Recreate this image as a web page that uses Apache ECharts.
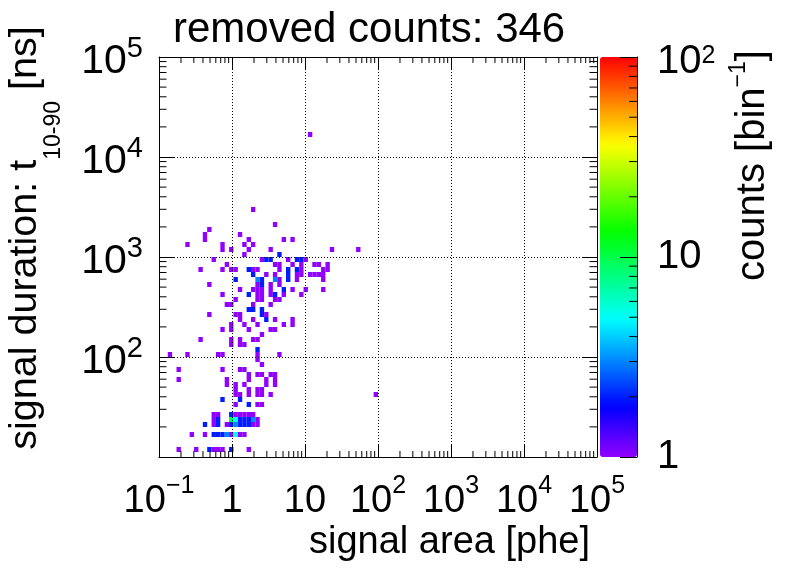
<!DOCTYPE html>
<html lang="en">
  <head>
    <meta charset="UTF-8" />
    <script src="https://cdn.jsdelivr.net/npm/echarts@6.0.0/dist/echarts.min.js"></script>
    <style>
      html, body { margin: 0; padding: 0; background: #fff; }
      #main { width: 796px; height: 572px; }
    </style>
    <title>removed counts</title>
  </head>
  <body>
    <div id="main"></div>
    <script>
      const FONT = "'Liberation Sans', Arial, Helvetica, sans-serif";

      const titleText = "removed counts: 346";
      const xTitle = "signal area [phe]";

      // histogram binning: [nbins, log10 low, log10 high]
      const xBinning = [100, -1, 5];
      const yBinning = [80, 1, 5];

      const xRange = [0.1, 1e5];
      const yRange = [10, 1e5];
      const zRange = [1, 100];

      // [x bin, y bin, counts]
      const cells = [
        [34, 64, 1],
        [21, 49, 1],
        [26, 46, 1],
        [11, 45, 1],
        [10, 44, 1], [18, 44, 1],
        [10, 43, 1], [20, 43, 1], [28, 43, 1], [30, 43, 1],
        [6, 42, 1], [14, 42, 1], [19, 42, 1], [21, 42, 1],
        [14, 41, 1], [16, 41, 1], [20, 41, 1], [25, 41, 1], [39, 41, 1], [45, 41, 1],
        [19, 40, 1], [27, 40, 2],
        [12, 39, 1], [23, 39, 1], [24, 39, 2], [25, 39, 2], [29, 39, 1], [31, 39, 2], [32, 39, 2], [33, 39, 1],
        [15, 38, 1], [26, 38, 1], [27, 38, 1], [30, 38, 1], [32, 38, 1], [35, 38, 1], [36, 38, 1], [38, 38, 1],
        [9, 37, 1], [14, 37, 1], [16, 37, 1], [17, 37, 1], [20, 37, 2], [21, 37, 1], [22, 37, 1],
        [27, 37, 1], [29, 37, 2], [31, 37, 2], [32, 37, 1], [37, 37, 1], [38, 37, 1],
        [21, 36, 2], [24, 36, 1], [26, 36, 1], [29, 36, 2], [31, 36, 1], [32, 36, 1],
        [34, 36, 1], [35, 36, 1], [36, 36, 1], [37, 36, 1],
        [17, 35, 2], [22, 35, 3], [23, 35, 2], [26, 35, 3], [27, 35, 1], [29, 35, 2], [31, 35, 1], [37, 35, 1],
        [11, 34, 1], [22, 34, 1], [23, 34, 2], [25, 34, 1], [27, 34, 1],
        [18, 33, 1], [21, 33, 1], [22, 33, 1], [23, 33, 1], [25, 33, 1], [28, 33, 2], [30, 33, 1], [33, 33, 1], [37, 33, 1],
        [14, 32, 1], [20, 32, 2], [22, 32, 1], [23, 32, 1], [25, 32, 1], [26, 32, 2], [28, 32, 1], [32, 32, 1],
        [17, 31, 1], [22, 31, 1], [23, 31, 1], [26, 31, 1], [27, 31, 1],
        [15, 30, 1], [16, 30, 1], [21, 30, 1], [25, 30, 1],
        [20, 29, 2], [21, 29, 2], [23, 29, 2],
        [11, 28, 1], [17, 28, 1], [18, 28, 1], [23, 28, 2], [24, 28, 1],
        [18, 27, 1], [21, 27, 1], [24, 27, 2], [26, 27, 1], [30, 27, 1],
        [16, 26, 1], [19, 26, 1], [22, 26, 1], [28, 26, 1], [30, 26, 1],
        [14, 25, 1], [16, 25, 1], [20, 25, 1], [25, 25, 1], [26, 25, 1],
        [23, 24, 1],
        [9, 23, 1], [16, 23, 1], [18, 23, 1], [21, 23, 1], [22, 23, 1],
        [16, 22, 1], [18, 22, 1], [19, 22, 1],
        [22, 21, 2],
        [2, 20, 1], [6, 20, 1], [13, 20, 1], [14, 20, 1], [22, 20, 1], [27, 20, 1],
        [22, 19, 1],
        [23, 18, 1],
        [4, 17, 1], [14, 17, 1], [18, 17, 1], [19, 17, 1],
        [20, 16, 1], [22, 16, 1], [23, 16, 1], [25, 16, 1], [26, 16, 1],
        [4, 15, 1], [15, 15, 1], [20, 15, 1], [24, 15, 1], [26, 15, 1],
        [15, 14, 1], [17, 14, 1], [19, 14, 1], [24, 14, 1], [26, 14, 1],
        [17, 13, 1], [20, 13, 1], [22, 13, 1], [23, 13, 1],
        [17, 12, 1], [18, 12, 1], [20, 12, 1], [22, 12, 1], [23, 12, 1], [25, 12, 1], [49, 12, 1],
        [14, 11, 2], [18, 11, 2],
        [17, 10, 1], [20, 10, 2], [22, 10, 1], [23, 10, 1],
        [12, 8, 1], [13, 8, 1], [16, 8, 2], [17, 8, 1], [18, 8, 1], [19, 8, 1], [20, 8, 1], [21, 8, 1],
        [12, 7, 1], [13, 7, 2], [16, 7, 10], [17, 7, 5], [18, 7, 2], [19, 7, 2], [20, 7, 2], [21, 7, 3], [22, 7, 1],
        [10, 6, 2], [12, 6, 1], [13, 6, 2], [15, 6, 1], [16, 6, 2], [17, 6, 3], [18, 6, 2],
        [19, 6, 2], [20, 6, 2], [21, 6, 1], [22, 6, 1],
        [7, 4, 1], [10, 4, 1], [12, 4, 2], [13, 4, 2], [14, 4, 2], [15, 4, 3], [16, 4, 1], [17, 4, 5], [18, 4, 1], [19, 4, 1],
        [4, 1, 1], [8, 1, 1], [11, 1, 2], [12, 1, 1], [13, 1, 1], [14, 1, 1], [16, 1, 2], [20, 1, 1],
      ];

      // minor ticks at 2..9 of each decade
      const minorSteps = [2, 3, 4, 5, 6, 7, 8, 9];
      const xDecades = [0.1, 1, 10, 100, 1e3, 1e4];
      const yDecades = [10, 100, 1e3, 1e4];
      const zDecades = [1, 10];

      // ROOT "pretty" palette: hue 280 -> 0
      const palette = [];
      for (let i = 0; i < 49; i++) {
        palette.push("hsl(" + (280 - (i + 1) * 5.6).toFixed(1) + ",100%,50%)");
      }
      palette.push("#ff0000");

      function edge(binning, i) {
        return Math.pow(10, binning[1] + ((binning[2] - binning[1]) * i) / binning[0]);
      }

      function minors(decades) {
        const out = [];
        decades.forEach((d) => minorSteps.forEach((m) => out.push(m * d)));
        return out;
      }

      function powLabel(v) {
        const e = Math.round(Math.log10(v));
        if (e === 0) return "{b|1}";
        if (e === 1) return "{b|10}";
        return "{b|10}{s|" + (e < 0 ? "\u2212" + -e : e) + "}";
      }

      const cellRows = cells.map((c) => [
        Math.sqrt(edge(xBinning, c[0]) * edge(xBinning, c[0] + 1)),
        Math.sqrt(edge(yBinning, c[1]) * edge(yBinning, c[1] + 1)),
        c[2],
        Math.log10(c[2]),
        c[0],
        c[1],
      ]);

      const black = "#000";

      function cellItem(params, api) {
        const ix = api.value(4);
        const iy = api.value(5);
        const p0 = api.coord([edge(xBinning, ix), edge(yBinning, iy + 1)]);
        const p1 = api.coord([edge(xBinning, ix + 1), edge(yBinning, iy)]);
        return {
          type: "rect",
          shape: { x: p0[0], y: p0[1], width: p1[0] - p0[0], height: p1[1] - p0[1] },
          style: { fill: api.visual("color") },
        };
      }

      function tickLine(x1, y1, x2, y2) {
        return {
          type: "line",
          shape: { x1: x1, y1: y1, x2: x2, y2: y2 },
          style: { stroke: black, lineWidth: 1 },
        };
      }

      function xMinorItem(params, api) {
        const v = api.value(0);
        const b = api.coord([v, yRange[0]]);
        const t = api.coord([v, yRange[1]]);
        return {
          type: "group",
          children: [tickLine(b[0], b[1], b[0], b[1] - 6), tickLine(t[0], t[1], t[0], t[1] + 6)],
        };
      }

      function yMinorItem(params, api) {
        const v = api.value(1);
        const l = api.coord([xRange[0], v]);
        const r = api.coord([xRange[1], v]);
        return {
          type: "group",
          children: [tickLine(l[0], l[1], l[0] + 7.5, l[1]), tickLine(r[0], r[1], r[0] - 7.5, r[1])],
        };
      }

      function zMinorItem(params, api) {
        const p = api.coord([1, api.value(1)]);
        return tickLine(p[0], p[1], p[0] - 8, p[1]);
      }

      const xRich = {
        b: { fontSize: 38, fontFamily: FONT, color: black, lineHeight: 48, height: 38, verticalAlign: "bottom" },
        s: { fontSize: 25, fontFamily: FONT, color: black, height: 26, verticalAlign: "top" },
      };
      const yRich = {
        b: { fontSize: 41, fontFamily: FONT, color: black, lineHeight: 51, height: 41, verticalAlign: "bottom" },
        s: { fontSize: 29, fontFamily: FONT, color: black, height: 35, verticalAlign: "top" },
      };
      const zRich = {
        p: { fontSize: 40, fontFamily: FONT, color: black },
        b: { fontSize: 40, fontFamily: FONT, color: black, lineHeight: 50, height: 40, verticalAlign: "bottom" },
        s: { fontSize: 25, fontFamily: FONT, color: black, height: 49, verticalAlign: "top" },
      };

      const frameLine = { show: true, onZero: false, lineStyle: { color: black, width: 1 } };
      const dotted = { show: true, lineStyle: { color: black, width: 1, type: [1, 2] } };

      const myChart = echarts.init(document.getElementById("main"));

      myChart.setOption({
        animation: false,
        backgroundColor: "#fff",
        grid: [
          { left: 159, top: 57, width: 438, height: 400, outerBoundsMode: "none" },
          { left: 600, top: 57, width: 37, height: 400, outerBoundsMode: "none" },
        ],
        xAxis: [
          {
            gridIndex: 0,
            type: "log",
            logBase: 10,
            min: xRange[0],
            max: xRange[1],
            position: "bottom",
            z: 5,
            axisLine: frameLine,
            axisTick: { show: true, inside: true, length: 12, lineStyle: { color: black } },
            axisLabel: { margin: 16, formatter: powLabel, rich: xRich },
            splitLine: dotted,
          },
          {
            gridIndex: 0,
            type: "log",
            logBase: 10,
            min: xRange[0],
            max: xRange[1],
            position: "top",
            z: 5,
            axisLine: frameLine,
            axisTick: { show: true, inside: true, length: 12, lineStyle: { color: black } },
            axisLabel: { show: false },
            splitLine: { show: false },
          },
          { gridIndex: 1, type: "value", min: 0, max: 1, show: false },
        ],
        yAxis: [
          {
            gridIndex: 0,
            type: "log",
            logBase: 10,
            min: yRange[0],
            max: yRange[1],
            position: "left",
            z: 5,
            axisLine: frameLine,
            axisTick: { show: true, inside: true, length: 15, lineStyle: { color: black } },
            axisLabel: {
              margin: 16,
              formatter: (v) => (Math.round(Math.log10(v)) === 1 ? "" : powLabel(v)),
              rich: yRich,
            },
            splitLine: dotted,
          },
          {
            gridIndex: 0,
            type: "log",
            logBase: 10,
            min: yRange[0],
            max: yRange[1],
            position: "right",
            z: 5,
            axisLine: frameLine,
            axisTick: { show: true, inside: true, length: 15, lineStyle: { color: black } },
            axisLabel: { show: false },
            splitLine: { show: false },
          },
          {
            gridIndex: 1,
            type: "log",
            logBase: 10,
            min: zRange[0],
            max: zRange[1],
            position: "right",
            z: 10,
            axisLine: frameLine,
            axisTick: { show: true, inside: true, length: 17, lineStyle: { color: black } },
            axisLabel: {
              margin: 20,
              formatter: (v) => {
                const e = Math.round(Math.log10(v));
                return e === 0 ? "{p|1}" : e === 1 ? "{p|10}" : "{b|10}{s|" + e + "}";
              },
              rich: zRich,
            },
            splitLine: { show: false },
          },
        ],
        visualMap: {
          type: "continuous",
          seriesIndex: 0,
          dimension: 3,
          min: Math.log10(zRange[0]),
          max: Math.log10(zRange[1]),
          calculable: false,
          hoverLink: false,
          orient: "vertical",
          left: 600,
          top: 57,
          padding: 0,
          itemWidth: 37,
          itemHeight: 400,
          inRange: { color: palette },
          z: 4,
        },
        graphic: [
          {
            type: "text",
            x: 173,
            y: 30.5,
            style: {
              text: titleText,
              fontSize: 42,
              fontFamily: FONT,
              fill: black,
              align: "left",
              verticalAlign: "middle",
            },
          },
          {
            type: "text",
            x: 590,
            y: 543,
            style: {
              text: xTitle,
              fontSize: 38,
              fontFamily: FONT,
              fill: black,
              align: "right",
              verticalAlign: "middle",
            },
          },
          {
            type: "text",
            x: 25.5,
            y: 238,
            rotation: Math.PI / 2,
            style: {
              text: "{m|signal duration: t}{d|10-90}{m| [ns]}",
              align: "center",
              verticalAlign: "middle",
              fill: black,
              rich: {
                m: { fontSize: 39.5, fontFamily: FONT, fill: black, lineHeight: 70 },
                d: { fontSize: 23, fontFamily: FONT, fill: black, height: 13, verticalAlign: "bottom" },
              },
            },
          },
          {
            type: "text",
            x: 753,
            y: 165.5,
            rotation: Math.PI / 2,
            style: {
              text: "{m|counts [bin}{u|\u22121}{m|]}",
              align: "center",
              verticalAlign: "middle",
              fill: black,
              rich: {
                m: { fontSize: 40, fontFamily: FONT, fill: black, lineHeight: 50 },
                u: { fontSize: 23, fontFamily: FONT, fill: black, height: 21, verticalAlign: "top" },
              },
            },
          },
        ],
        series: [
          {
            type: "custom",
            name: "cells",
            xAxisIndex: 0,
            yAxisIndex: 0,
            silent: true,
            z: 1,
            data: cellRows,
            renderItem: cellItem,
          },
          {
            type: "custom",
            xAxisIndex: 0,
            yAxisIndex: 0,
            silent: true,
            z: 6,
            data: minors(xDecades).map((v) => [v, yRange[0]]),
            renderItem: xMinorItem,
          },
          {
            type: "custom",
            xAxisIndex: 0,
            yAxisIndex: 0,
            silent: true,
            z: 6,
            data: minors(yDecades).map((v) => [xRange[0], v]),
            renderItem: yMinorItem,
          },
          {
            type: "custom",
            xAxisIndex: 2,
            yAxisIndex: 2,
            silent: true,
            z: 11,
            data: minors(zDecades).map((v) => [1, v]),
            renderItem: zMinorItem,
          },
        ],
      });
    </script>
  </body>
</html>
